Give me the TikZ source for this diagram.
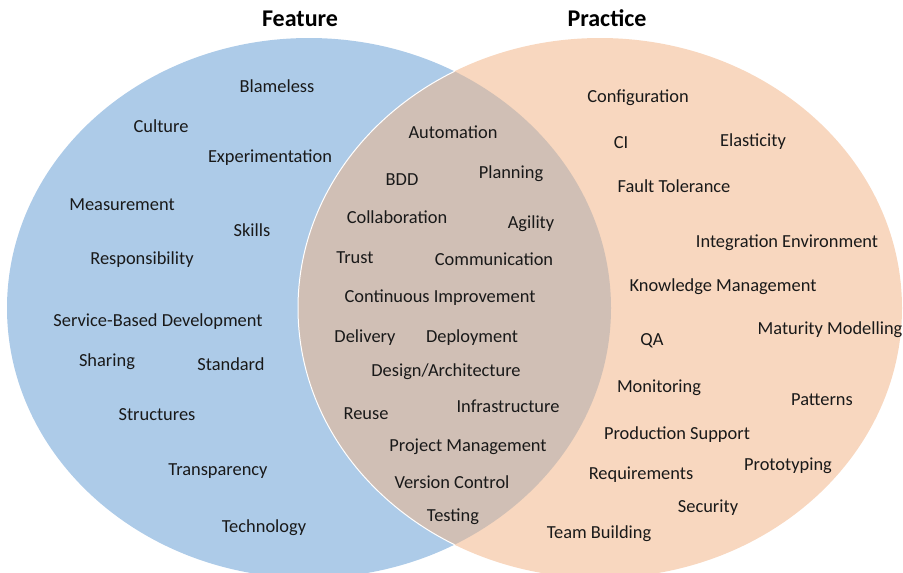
\documentclass[tikz,border=0pt]{standalone}
\usepackage{fontspec}
\setmainfont{Carlito}
\definecolor{featblue}{HTML}{ADCBE8}
\definecolor{practpeach}{HTML}{F8D7BF}
\definecolor{overlap}{HTML}{D0BFB5}
\begin{document}
\begin{tikzpicture}[x=1pt,y=-1pt,
  lbl/.style={anchor=base,inner sep=0pt,font=\fontsize{18.4}{20}\selectfont,text=black!90},
  ttl/.style={anchor=base,inner sep=0pt,font=\fontsize{24}{26}\selectfont\bfseries,text=black}]
\useasboundingbox (0,0) rectangle (903,573);
\fill[featblue] (309,308) ellipse [x radius=302, y radius=270];
\fill[practpeach] (600,308) ellipse [x radius=302, y radius=270];
\begin{scope}
  \clip (309,308) ellipse [x radius=302, y radius=270];
  \fill[overlap] (600,308) ellipse [x radius=302, y radius=270];
  \draw[white,line width=1pt] (600,308) ellipse [x radius=302, y radius=270];
\end{scope}
% titles
\node[ttl] (tfeat) at (300,26) {Feature};
\node[ttl] (tprac) at (607,26) {Practice};
% feature
\node[lbl] (f1) at (277,92) {Blameless};
\node[lbl] (f2) at (161,132) {Culture};
\node[lbl] (f3) at (270,162) {Experimentation};
\node[lbl] (f4) at (122,210) {Measurement};
\node[lbl] (f5) at (252,236) {Skills};
\node[lbl] (f6) at (142,264) {Responsibility};
\node[lbl] (f7) at (158,326) {Service-Based Development};
\node[lbl] (f8) at (107,366) {Sharing};
\node[lbl] (f9) at (231,370) {Standard};
\node[lbl] (f10) at (157,420) {Structures};
\node[lbl] (f11) at (218,475) {Transparency};
\node[lbl] (f12) at (264,532) {Technology};
% overlap
\node[lbl] (m1) at (453,138) {Automation};
\node[lbl] (m2) at (402,185) {BDD};
\node[lbl] (m3) at (511,178) {Planning};
\node[lbl] (m4) at (397,223) {Collaboration};
\node[lbl] (m5) at (531,228) {Agility};
\node[lbl] (m6) at (355,263) {Trust};
\node[lbl] (m7) at (494,265) {Communication};
\node[lbl] (m8) at (440,302) {Continuous Improvement};
\node[lbl] (m9) at (365,342) {Delivery};
\node[lbl] (m10) at (472,342) {Deployment};
\node[lbl] (m11) at (446,376) {Design/Architecture};
\node[lbl] (m12) at (366,419) {Reuse};
\node[lbl] (m13) at (508,412) {Infrastructure};
\node[lbl] (m14) at (468,451) {Project Management};
\node[lbl] (m15) at (452,488) {Version Control};
\node[lbl] (m16) at (453,521) {Testing};
% practice
\node[lbl] (p1) at (638,102) {Configuration};
\node[lbl] (p2) at (621,148) {CI};
\node[lbl] (p3) at (753,146) {Elasticity};
\node[lbl] (p4) at (674,192) {Fault Tolerance};
\node[lbl] (p5) at (787,247) {Integration Environment};
\node[lbl] (p6) at (723,291) {Knowledge Management};
\node[lbl] (p7) at (830,334) {Maturity Modelling};
\node[lbl] (p8) at (652,345) {QA};
\node[lbl] (p9) at (659,392) {Monitoring};
\node[lbl] (p10) at (822,405) {Patterns};
\node[lbl] (p11) at (677,439) {Production Support};
\node[lbl] (p12) at (788,470) {Prototyping};
\node[lbl] (p13) at (641,479) {Requirements};
\node[lbl] (p14) at (708,512) {Security};
\node[lbl] (p15) at (599,538) {Team Building};
\end{tikzpicture}
\end{document}
